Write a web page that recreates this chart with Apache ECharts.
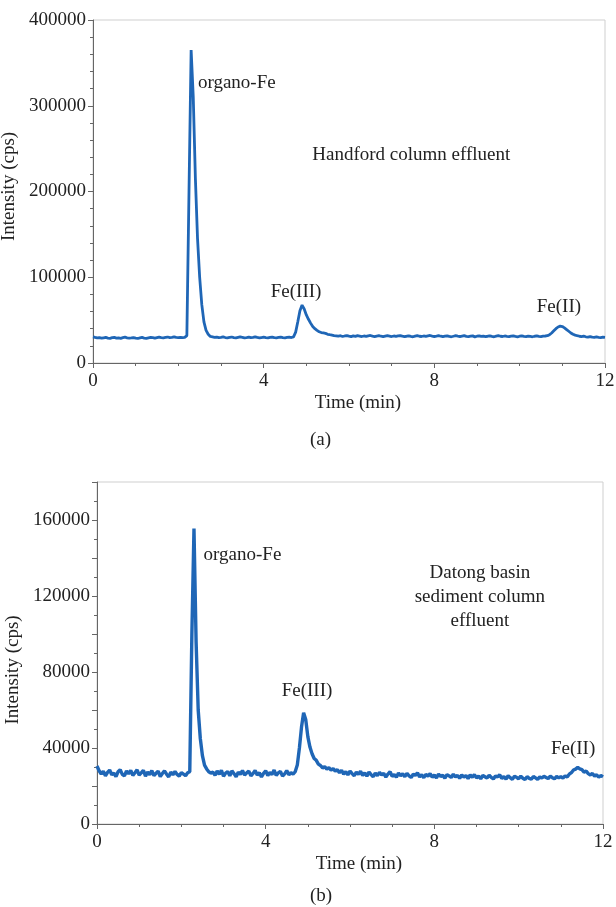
<!DOCTYPE html>
<html>
<head>
<meta charset="utf-8">
<script src="https://cdn.jsdelivr.net/npm/echarts@6/dist/echarts.min.js"></script>
<style>
html,body{margin:0;padding:0;background:#fff;}
#chart{width:616px;height:907px;}
</style>
</head>
<body>
<div id="chart"></div>
<script>
// ---------- DATA ----------
// sampling interval of the chromatogram traces (min)
const sampleStepMin = 0.05;

// (a) Handford column effluent, intensity in thousands of cps, t = 0 ... 12 min
const intensityA_k = [
  30.5,29.8,29.2,29.6,28.9,29.4,29.9,29.1,28.7,29.5,
  29.8,29.0,29.3,28.8,29.6,30.1,29.4,28.9,29.2,29.7,
  29.0,28.6,29.3,29.8,29.1,28.8,29.4,29.9,29.5,29.0,
  29.6,30.2,29.7,29.3,29.8,30.3,29.6,29.9,30.4,29.8,
  29.5,30.0,29.6,29.9,
  32,200,365,310,215,145,100,68,48,38,33.5,31,
  30.4,29.8,30.2,29.5,29.9,30.5,29.7,29.3,29.9,30.3,
  29.6,29.2,29.8,30.4,30.0,29.4,29.7,30.2,29.5,29.9,
  30.4,29.8,29.3,29.7,30.1,29.6,29.2,29.8,30.3,29.7,
  29.4,29.9,30.2,29.6,29.3,29.8,30.1,29.7,
  30.5,36,48,61,67.5,63,56,51,46.5,42.5,40,38,36.5,35.5,35,34.5,33.5,33,32.6,32.0,31.7,
  31.2,31.8,30.9,31.5,32.0,31.3,30.8,31.6,31.1,31.9,
  31.4,30.9,31.5,31.0,31.7,32.1,31.3,30.8,31.4,31.8,
  31.2,30.7,31.3,31.9,31.4,30.9,31.5,31.0,31.6,32.0,
  31.3,30.8,31.2,31.7,31.1,30.6,31.4,31.9,31.2,30.9,
  31.5,31.0,31.6,32.1,31.4,30.9,31.3,31.8,31.2,30.7,
  31.3,31.7,31.0,30.6,31.2,31.8,31.3,30.9,31.4,31.9,
  31.1,30.7,31.3,31.6,30.5,31.2,31.7,31.0,31.4,30.8,
  31.2,31.7,31.1,30.6,31.3,31.8,31.2,30.9,31.5,31.0,
  30.7,31.3,31.6,31.0,30.5,31.2,31.7,31.1,30.8,31.4,
  31.0,30.6,31.2,31.6,31.0,30.7,31.3,31.5,
  31.8,33,35,37.5,40,42,43,42.5,41,39,37,35,33.5,32.5,31.8,
  31.2,30.8,31.3,30.6,30.2,30.7,30.1,29.8,30.4,29.9,29.6,30.1,29.8
];

// (b) Datong basin sediment column effluent, intensity in thousands of cps, t = 0 ... 12 min
const intensityB_k = [
  30.5,28.0,26.3,27.8,25.4,27.2,28.4,25.9,26.8,24.9,
  27.5,28.6,26.1,25.3,27.9,26.4,28.2,25.6,27.0,28.5,
  25.8,26.9,28.3,25.2,27.4,26.0,28.1,25.5,26.7,27.8,
  25.0,26.6,28.0,26.2,24.8,27.3,25.9,27.7,26.1,25.2,
  27.1,26.3,25.4,27.0,
  27.5,100,155.5,96,60,45,36,31,29,27.5,26.8,27.3,
  25.6,27.9,26.2,28.3,25.1,26.8,27.6,25.4,28.0,26.5,
  24.9,27.3,26.1,28.2,25.7,26.9,27.8,25.3,26.6,28.1,
  25.8,27.0,24.8,26.7,28.0,25.5,27.2,26.0,28.4,25.6,
  26.9,27.7,25.2,26.4,28.1,25.9,27.0,26.2,
  27.5,31,40,51,58.5,55,46,40.5,37,34.5,33.5,31.5,30.8,29.5,30.2,28.9,29.6,28.4,29.2,27.8,28.6,
  27.0,28.3,26.2,27.6,25.8,27.9,26.5,25.4,27.3,26.1,
  27.8,25.6,26.9,25.2,27.4,26.0,24.9,26.8,25.5,27.2,
  25.8,26.6,24.7,26.3,27.5,25.1,26.0,24.6,26.9,25.4,
  26.4,24.9,26.7,25.3,24.5,26.2,25.6,27.0,24.8,25.9,
  24.4,26.1,25.2,26.5,24.6,25.8,24.2,26.3,25.0,25.7,
  24.1,26.0,25.3,24.5,26.2,24.8,25.6,24.0,25.9,24.7,
  25.5,23.9,25.8,24.6,26.0,24.3,25.2,23.8,25.6,24.9,
  24.2,25.7,24.5,23.7,25.3,24.8,25.9,24.0,24.9,23.6,
  25.4,24.4,23.5,25.1,24.6,23.8,25.2,24.1,23.4,24.9,
  24.0,23.6,25.0,24.3,23.5,24.8,24.2,25.1,
  24.5,23.9,25.2,24.4,23.8,25.0,24.3,24.9,24.1,25.3,24.8,26.2,27.0,28.4,28.9,
  29.8,29.0,28.6,27.3,27.9,26.5,25.8,26.6,25.2,25.9,24.6,25.5,24.8
];

// axis tick values
const xTicks = [0, 4, 8, 12];
const yTicksA = [0, 100000, 200000, 300000, 400000];
const yTicksB = [0, 40000, 80000, 120000, 160000];
const yMaxB = 180000;

// peak / panel annotations: [text, time (min), intensity (cps)] (text centre)
const notesA = [
  ['organo-Fe', 3.37, 327000],
  ['Handford column effluent', 7.46, 242000],
  ['Fe(III)', 4.76, 83000],
  ['Fe(II)', 10.92, 65000]
];
const notesB = [
  ['organo-Fe', 3.45, 141500],
  ['Datong basin\nsediment column\neffluent', 9.08, 119500],
  ['Fe(III)', 4.98, 70000],
  ['Fe(II)', 11.29, 39500]
];

// ---------- CHART ----------
const FONT = "'Liberation Serif','Times New Roman',serif";
const FS = 19;
const LINE = '#1f66b6';
const toPairs = arr => arr.map((v, i) => [+(i * sampleStepMin).toFixed(2), v * 1000]);

function xAxisCfg(gi) {
  return {
    type: 'value', gridIndex: gi, min: xTicks[0], max: xTicks[xTicks.length - 1],
    interval: xTicks[1] - xTicks[0],
    name: 'Time (min)', nameLocation: 'middle', nameGap: 31,
    nameTextStyle: {fontFamily: FONT, fontSize: FS, color: '#222', padding: [0, 0, 0, 18]},
    axisLine: {onZero: false, lineStyle: {color: '#666', width: 1}},
    axisTick: {show: true, inside: false, length: 5, lineStyle: {color: '#666'}},
    minorTick: {show: true, splitNumber: 4, length: 3, lineStyle: {color: '#666'}},
    axisLabel: {fontFamily: FONT, fontSize: FS, color: '#222', margin: 9},
    splitLine: {show: false}
  };
}
function yAxisCfg(gi, ticks, max, interval, minorSplit, namePad) {
  return {
    type: 'value', gridIndex: gi, min: 0, max: max, interval: interval,
    name: 'Intensity (cps)', nameLocation: 'middle', nameGap: 69,
    nameTextStyle: {fontFamily: FONT, fontSize: FS, color: '#222', padding: namePad},
    axisLine: {show: true, lineStyle: {color: '#666', width: 1}},
    axisTick: {show: true, inside: false, length: 5, lineStyle: {color: '#666'}},
    minorTick: {show: true, splitNumber: minorSplit, length: 3, lineStyle: {color: '#666'}},
    axisLabel: {
      fontFamily: FONT, fontSize: FS, color: '#222', margin: 7, showMaxLabel: ticks.indexOf(max) >= 0,
      formatter: v => (ticks.indexOf(v) >= 0 ? String(v) : '')
    },
    splitLine: {show: false}
  };
}
function notePoints(notes) {
  return {
    symbol: 'circle', symbolSize: 2, silent: true,
    itemStyle: {color: 'rgba(0,0,0,0)'},
    label: {show: true, position: 'inside', fontFamily: FONT, fontSize: FS, color: '#222', lineHeight: 24, formatter: p => p.name},
    data: notes.map(n => ({name: n[0], coord: [n[1], n[2]]}))
  };
}

const chart = echarts.init(document.getElementById('chart'), null, {renderer: 'canvas'});
chart.setOption({
  animation: false,
  backgroundColor: '#ffffff',
  grid: [
    {left: 93, right: 11, top: 20, bottom: 544, outerBoundsMode: 'none', containLabel: false, show: true, borderColor: '#cfcfcf', borderWidth: 1, backgroundColor: 'transparent'},
    {left: 97, right: 13, top: 482, bottom: 83, outerBoundsMode: 'none', containLabel: false, show: true, borderColor: '#cfcfcf', borderWidth: 1, backgroundColor: 'transparent'}
  ],
  xAxis: [xAxisCfg(0), xAxisCfg(1)],
  yAxis: [
    yAxisCfg(0, yTicksA, yTicksA[yTicksA.length - 1], 100000, 5, [0, 0, 0, 10]),
    yAxisCfg(1, yTicksB, yMaxB, 20000, 2, [0, 34, 0, 0])
  ],
  title: [
    {text: '(a)', left: 305, top: 426, textStyle: {fontFamily: FONT, fontSize: FS, fontWeight: 'normal', color: '#222'}},
    {text: '(b)', left: 305, top: 882, textStyle: {fontFamily: FONT, fontSize: FS, fontWeight: 'normal', color: '#222'}}
  ],
  series: [
    {type: 'line', xAxisIndex: 0, yAxisIndex: 0, data: toPairs(intensityA_k), showSymbol: false, symbol: 'none',
     lineStyle: {color: LINE, width: 2.8}, itemStyle: {color: LINE}, sampling: null, markPoint: notePoints(notesA)},
    {type: 'line', xAxisIndex: 1, yAxisIndex: 1, data: toPairs(intensityB_k), showSymbol: false, symbol: 'none',
     lineStyle: {color: LINE, width: 3.4}, itemStyle: {color: LINE}, sampling: null, markPoint: notePoints(notesB)}
  ]
});
</script>
</body>
</html>
